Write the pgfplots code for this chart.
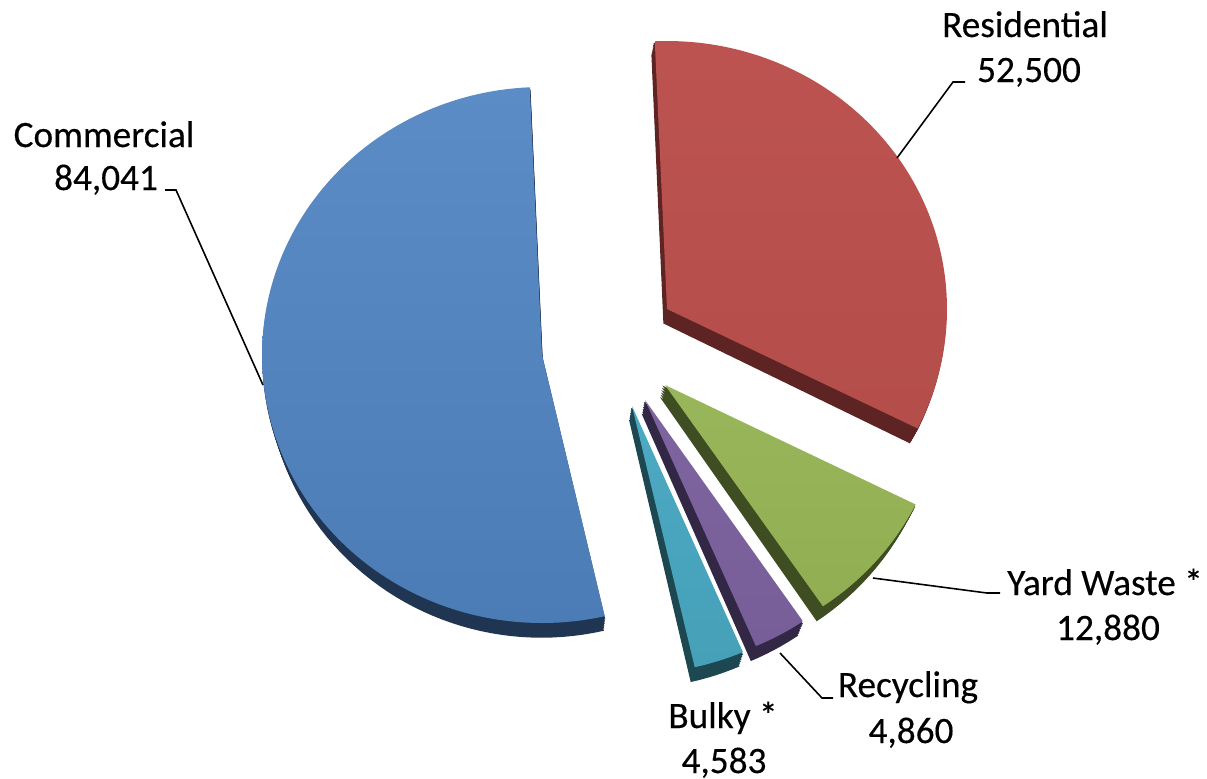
\documentclass[border=0pt]{standalone}
\usepackage{pgfplots}
\pgfplotsset{compat=1.18}
\usepackage{pgfplotstable}
\usepackage{fontspec}
\setmainfont{Carlito}[FakeBold=0.35]

\definecolor{cF1}{HTML}{5C8CC6}\definecolor{cF2}{HTML}{4C7CB6}\definecolor{cS}{HTML}{1F3552}
\definecolor{rF1}{HTML}{BC5350}\definecolor{rF2}{HTML}{B44E4B}\definecolor{rS}{HTML}{5E2423}
\definecolor{yF1}{HTML}{9AB65A}\definecolor{yF2}{HTML}{92AE52}\definecolor{yS}{HTML}{3E4D22}
\definecolor{pF1}{HTML}{7E65A0}\definecolor{pF2}{HTML}{785E99}\definecolor{pS}{HTML}{332746}
\definecolor{bF1}{HTML}{4DAAC3}\definecolor{bF2}{HTML}{45A0B8}\definecolor{bS}{HTML}{1D4751}

\tikzset{lbl/.style={anchor=base, inner sep=0pt, font=\fontsize{10.6}{12.6}\selectfont}}

% value, and the position (screen px) of each exploded slice's apex
\pgfplotstableread{
name value cx cy
Commercial 84041 542 355
Residential 52500 667 309
Yard 12880 665 385
Recycling 4860 645 400
Bulky 4583 632 406
}\slices

\newcommand\getv[3]{\pgfplotstablegetelem{#1}{#2}\of\slices\edef#3{\pgfplotsretval}}

% #1 cx, #2 cy, #3 domain lo, #4 domain hi, #5 side colour
\newcommand\sideof[5]{%
  \pgfplotsinvokeforeach{0.17,0.33,0.5,0.67,0.83,1}{%
    \addplot[fill=#5, draw=#5, line width=0.4pt, domain=#3:#4, samples=90]
      ({#1+280*cos(x) - 0.02*##1*(#1+280*cos(x)-520)}, {#2+14*##1-268*sin(x)})
      -- (axis cs:{#1-0.02*##1*(#1-520)},{#2+14*##1}) -- cycle;
  }%
}
% #1 cx, #2 cy, #3 lo, #4 hi, #5 top colour, #6 bottom colour
\newcommand\faceof[6]{%
  \addplot[draw=none, top color=#5, bottom color=#6, domain=#3:#4, samples=120]
    ({#1+280*cos(x)}, {#2-268*sin(x)}) -- (axis cs:#1,#2) -- cycle;
}

\begin{document}
\begin{tikzpicture}
\getv{0}{value}\vC \getv{1}{value}\vR \getv{2}{value}\vY \getv{3}{value}\vRe \getv{4}{value}\vB
\getv{0}{cx}\xC \getv{1}{cx}\xR \getv{2}{cx}\xY \getv{3}{cx}\xRe \getv{4}{cx}\xB
\getv{0}{cy}\yC \getv{1}{cy}\yR \getv{2}{cy}\yY \getv{3}{cy}\yRe \getv{4}{cy}\yB
\pgfkeys{/pgf/fpu=true,/pgf/fpu/output format=fixed}
\pgfmathsetmacro\tot{\vC+\vR+\vY+\vRe+\vB}
\pgfmathsetmacro\aR{92.5}
\pgfmathsetmacro\bR{\aR-360*\vR/\tot}
\pgfmathsetmacro\bY{\bR-360*\vY/\tot}
\pgfmathsetmacro\bRe{\bY-360*\vRe/\tot}
\pgfmathsetmacro\bB{\bRe-360*\vB/\tot}
\pgfmathsetmacro\bC{\bB-360*\vC/\tot}
\pgfkeys{/pgf/fpu=false}
\begin{axis}[
  width=12.07cm, height=7.78cm, scale only axis,
  xmin=0, xmax=1207, ymin=0, ymax=778, y dir=reverse,
  hide axis, clip=false,
]
\path (axis cs:0,0) rectangle (axis cs:1207,778);
% side walls
\sideof{\xC}{\yC}{\bC}{\bB}{cS}
\sideof{\xR}{\yR}{\bR}{\aR}{rS}
\sideof{\xY}{\yY}{\bY}{\bR}{yS}
\sideof{\xRe}{\yRe}{\bRe}{\bY}{pS}
\sideof{\xB}{\yB}{\bB}{\bRe}{bS}
% top faces
\faceof{\xC}{\yC}{\bC}{\bB}{cF1}{cF2}
\faceof{\xR}{\yR}{\bR}{\aR}{rF1}{rF2}
\faceof{\xY}{\yY}{\bY}{\bR}{yF1}{yF2}
\faceof{\xRe}{\yRe}{\bRe}{\bY}{pF1}{pF2}
\faceof{\xB}{\yB}{\bB}{\bRe}{bF1}{bF2}
% leader lines
\addplot[black, line width=0.45pt] coordinates {(965,82) (953,82) (897,158)};
\addplot[black, line width=0.45pt] coordinates {(165,190) (176,190) (263,385)};
\addplot[black, line width=0.45pt] coordinates {(873,578) (987,593) (1000,593)};
\addplot[black, line width=0.45pt] coordinates {(780,653) (822,698) (833,698)};
% labels
\node[lbl] at (axis cs:104,147) {Commercial};
\node[lbl] at (axis cs:106,190) {84,041};
\node[lbl] at (axis cs:1025,37) {Residential};
\node[lbl] at (axis cs:1029,82) {52,500};
\node[lbl] at (axis cs:1105,595) {Yard Waste *};
\node[lbl] at (axis cs:1108,640) {12,880};
\node[lbl] at (axis cs:908,697) {Recycling};
\node[lbl] at (axis cs:911,743) {4,860};
\node[lbl] at (axis cs:723,728) {Bulky *};
\node[lbl] at (axis cs:724,773) {4,583};
\end{axis}
\end{tikzpicture}
\end{document}
